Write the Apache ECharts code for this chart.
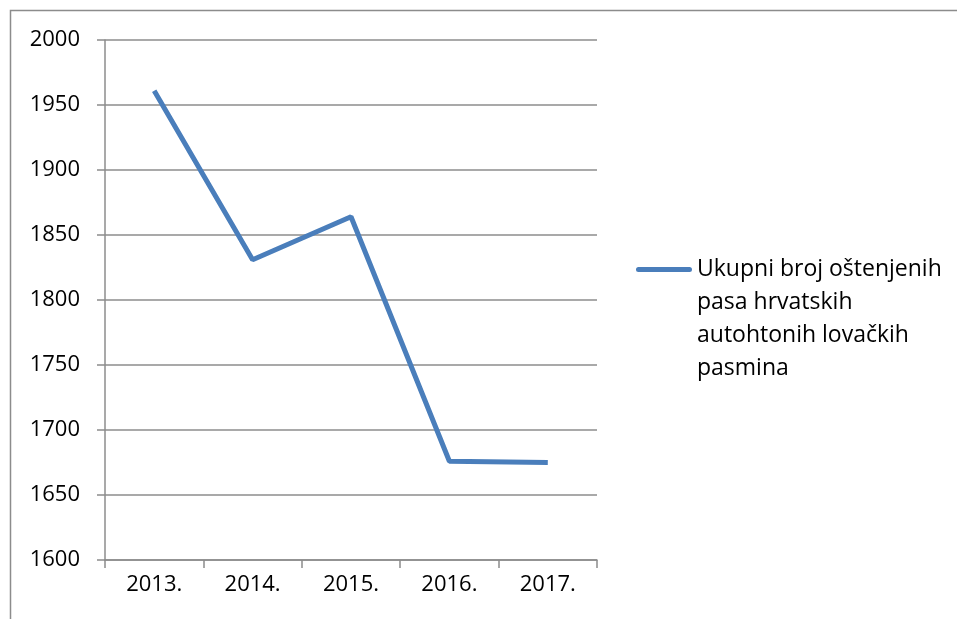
<!DOCTYPE html>
<html>
<head>
<meta charset="utf-8">
<script src="https://cdn.jsdelivr.net/npm/echarts@6/dist/echarts.min.js"></script>
<style>
  html, body { margin: 0; padding: 0; background: #fff; }
  #chart { width: 957px; height: 619px; }
</style>
</head>
<body>
<div id="chart"></div>
<script>
const years = ['2013.', '2014.', '2015.', '2016.', '2017.'];
const puppies = [1961, 1831, 1864, 1676, 1675];
const seriesName = 'Ukupni broj oštenjenih\npasa hrvatskih\nautohtonih lovačkih\npasmina';

const chart = echarts.init(document.getElementById('chart'));
const font = '"Open Sans", "Noto Sans", sans-serif';

// legend marker: short thick line next to the first text line
const legendIcon = 'path://M2.5,14h51a2.5,2.5 0 0 1 0,5h-51a2.5,2.5 0 0 1 0,-5z' +
  'M0,0h0.01v0.01h-0.01z M0,132h0.01v0.01h-0.01z';

chart.setOption({
  animation: false,
  textStyle: { fontFamily: font },
  graphic: [{
    type: 'rect',
    shape: { x: 10.5, y: 10.5, width: 1000, height: 700 },
    style: { fill: 'none', stroke: '#8c8c8c', lineWidth: 1.5 }
  }],
  grid: { left: 105, right: 360, top: 40, bottom: 59 },
  legend: {
    orient: 'vertical',
    left: 636,
    top: 253,
    padding: 0,
    itemWidth: 56,
    itemHeight: 132,
    itemGap: 0,
    icon: legendIcon,
    textStyle: { fontSize: 23, color: '#000', lineHeight: 33, fontFamily: font },
    data: [seriesName]
  },
  xAxis: {
    type: 'category',
    data: years,
    boundaryGap: true,
    axisLine: { lineStyle: { color: '#8c8c8c', width: 1.5 } },
    axisTick: { show: true, length: 8, lineStyle: { color: '#8c8c8c', width: 1.5 } },
    axisLabel: { fontSize: 22, color: '#000', margin: 14, fontFamily: font }
  },
  yAxis: {
    type: 'value',
    min: 1600,
    max: 2000,
    interval: 50,
    axisLine: { show: true, lineStyle: { color: '#8c8c8c', width: 1.5 } },
    axisTick: { show: true, length: 8, lineStyle: { color: '#8c8c8c', width: 1.5 } },
    splitLine: { lineStyle: { color: '#8c8c8c', width: 1.5 } },
    axisLabel: {
      fontSize: 22, color: '#000', margin: 25, fontFamily: font,
      formatter: v => String(v)
    }
  },
  series: [{
    name: seriesName,
    type: 'line',
    data: puppies,
    symbol: 'none',
    lineStyle: { color: '#4a7ebb', width: 5 },
    itemStyle: { color: '#4a7ebb' }
  }]
});
</script>
</body>
</html>
